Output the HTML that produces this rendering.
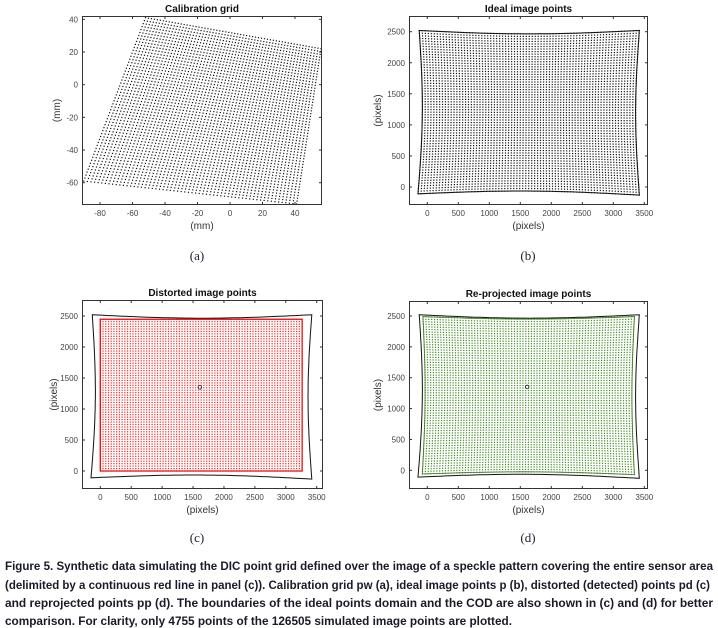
<!DOCTYPE html>
<html><head><meta charset="utf-8">
<style>
html,body{margin:0;padding:0;background:#fff;}
svg{display:block;}
text{font-family:"Liberation Sans",sans-serif;}
.cap{font-family:"Liberation Sans Narrow","Liberation Sans",sans-serif;font-weight:bold;font-size:11.5px;fill:#1a1a2a;}
.lab{font-family:"Liberation Serif",serif;font-size:13px;fill:#223;}
</style></head>
<body>
<svg id="fig" width="718" height="628" viewBox="0 0 718 628" xmlns="http://www.w3.org/2000/svg">
<text class="lab" x="197" y="260" text-anchor="middle">(a)</text>
<text class="lab" x="528" y="260" text-anchor="middle">(b)</text>
<text class="lab" x="197" y="542" text-anchor="middle">(c)</text>
<text class="lab" x="528" y="542" text-anchor="middle">(d)</text>
<g>
<text class="cap" x="5" y="570" textLength="708" lengthAdjust="spacingAndGlyphs">Figure 5. Synthetic data simulating the DIC point grid defined over the image of a speckle pattern covering the entire sensor area</text>
<text class="cap" x="5" y="589" textLength="705" lengthAdjust="spacingAndGlyphs">(delimited by a continuous red line in panel (c)). Calibration grid pw (a), ideal image points p (b), distorted (detected) points pd (c)</text>
<text class="cap" x="5" y="607" textLength="708" lengthAdjust="spacingAndGlyphs">and reprojected points pp (d). The boundaries of the ideal points domain and the COD are also shown in (c) and (d) for better</text>
<text class="cap" x="5" y="625" textLength="507" lengthAdjust="spacingAndGlyphs">comparison. For clarity, only 4755 points of the 126505 simulated image points are plotted.</text>
</g>
</svg>
<script>
// Panel A: calibration grid corners (mm) [TL, TR, BR, BL]
const calibCornersX = [-52, 56, 41, -90];
const calibCornersY = [41, 22, -73, -59];
const calibCols = 60, calibRows = 56;
const calibXTicks = [-80, -60, -40, -20, 0, 20, 40];
const calibYTicks = [-60, -40, -20, 0, 20, 40];
// Ideal image boundary (pixels) [TL, TR, BR, BL] and inward bow
const idealCornersX = [-130, 3420, 3420, -150];
const idealCornersY = [2520, 2520, -130, -110];
const idealBow = [60, 55];
const gridCols = 75, gridRows = 63;
// Sensor (red) rectangle
const sensorX = [0, 3264];
const sensorY = [0, 2448];
const centerPt = [1610, 1350];
// Re-projected (green) region corners
const reprojCornersX = [-70, 3340, 3340, -80];
const reprojCornersY = [2490, 2490, -70, -60];
const reprojBow = [40, 40];
const pixXTicks = [0, 500, 1000, 1500, 2000, 2500, 3000, 3500];
const pixYTicks = [0, 500, 1000, 1500, 2000, 2500];

const NS = "http://www.w3.org/2000/svg";
const svg = document.getElementById('fig');
function mk(tag, attrs, parent) {
  const e = document.createElementNS(NS, tag);
  for (const k in attrs) e.setAttribute(k, attrs[k]);
  (parent || svg).appendChild(e);
  return e;
}
function panel(p) {
  const g = mk('g', {});
  
  
  const sx = v => p.px0 + (v - p.x0) * (p.px1 - p.px0) / (p.x1 - p.x0);
  const sy = v => p.py0 + (v - p.y0) * (p.py1 - p.py0) / (p.y1 - p.y0);
  mk('rect', {x: p.bx0, y: p.by0, width: p.bx1 - p.bx0, height: p.by1 - p.by0, fill: '#fff'}, g);
  return {g, sx, sy};
}
function axes(P, p, xt, yt, ylabX, xlabY, title, xlab) {
  const {g, sx, sy} = P;
  const ax = mk('g', {}, g);
  
  
  mk('rect', {x: p.bx0 + .5, y: p.by0 + .5, width: p.bx1 - p.bx0 - 1, height: p.by1 - p.by0 - 1, fill: 'none', stroke: '#333', 'stroke-width': 1}, ax);
  xt.forEach(v => {
    const x = sx(v);
    mk('line', {x1: x, x2: x, y1: p.by1, y2: p.by1 - 3, stroke: '#333'}, ax);
    mk('line', {x1: x, x2: x, y1: p.by0, y2: p.by0 + 3, stroke: '#333'}, ax);
    const t = mk('text', {x: x, y: p.by1 + 11, 'font-size': 8, fill: '#444', 'text-anchor': 'middle'}, ax);
    t.textContent = v;
    
    
  });
  yt.forEach(v => {
    const y = sy(v);
    mk('line', {x1: p.bx0, x2: p.bx0 + 3, y1: y, y2: y, stroke: '#333'}, ax);
    mk('line', {x1: p.bx1, x2: p.bx1 - 3, y1: y, y2: y, stroke: '#333'}, ax);
    const t = mk('text', {x: p.bx0 - 4, y: y + 3, 'font-size': 8, fill: '#444', 'text-anchor': 'end'}, ax);
    t.textContent = v;
    
    
  });
  const tt = mk('text', {x: (p.bx0 + p.bx1) / 2, y: p.by0 - 4, 'font-size': 10, 'font-weight': 'bold', fill: '#111', 'text-anchor': 'middle'}, g);
  tt.textContent = title;
  
  
  const xl = mk('text', {x: (p.bx0 + p.bx1) / 2, y: xlabY, 'font-size': 10, fill: '#333', 'text-anchor': 'middle'}, g);
  xl.textContent = xlab;
  
  
  const cy = (p.by0 + p.by1) / 2;
  const yl = mk('text', {x: ylabX, y: cy, 'font-size': 10, fill: '#333', 'text-anchor': 'middle', transform: 'rotate(-90 ' + ylabX + ' ' + cy + ')'}, g);
  yl.textContent = xlab;
  
  
}
function warp(cx, cy, bow, u, v) {
  const x = (1 - u) * v * cx[0] + u * v * cx[1] + u * (1 - v) * cx[2] + (1 - u) * (1 - v) * cx[3];
  const y = (1 - u) * v * cy[0] + u * v * cy[1] + u * (1 - v) * cy[2] + (1 - u) * (1 - v) * cy[3];
  const b0 = bow ? bow[0] : 0, b1 = bow ? bow[1] : 0;
  return [x + b0 * Math.sin(Math.PI * v) * (1 - 2 * u), y - b1 * Math.sin(Math.PI * u) * (2 * v - 1)];
}
function dots(P, name, cx, cy, bow, cols, rows, color, sz) {
  const g = mk('g', {fill: color}, P.g);
  
  
  for (let i = 0; i < cols; i++) for (let j = 0; j < rows; j++) {
    const q = warp(cx, cy, bow, i / (cols - 1), j / (rows - 1));
    mk('rect', {x: P.sx(q[0]) - sz / 2, y: P.sy(q[1]) - sz / 2, width: sz, height: sz}, g);
  }
}
function outline(P, name, cx, cy, bow, color, w) {
  let d = '';
  const N = 40, pts = [];
  for (let k = 0; k <= N; k++) pts.push([k / N, 1]);
  for (let k = 0; k <= N; k++) pts.push([1, 1 - k / N]);
  for (let k = 0; k <= N; k++) pts.push([1 - k / N, 0]);
  for (let k = 0; k <= N; k++) pts.push([0, k / N]);
  pts.forEach((uv, i) => {
    const q = warp(cx, cy, bow, uv[0], uv[1]);
    d += (i ? 'L' : 'M') + P.sx(q[0]).toFixed(1) + ' ' + P.sy(q[1]).toFixed(1);
  });
  const e = mk('path', {d: d + 'Z', fill: 'none', stroke: color, 'stroke-width': w}, P.g);
  
  
}

// Panel A
const pa = {name: 'panel-a-calibration-grid', bx0: 82, bx1: 322, by0: 16, by1: 205,
  x0: -80, x1: 40, px0: 100, px1: 295, y0: 40, y1: -60, py0: 19.3, py1: 182.7};
const A = panel(pa);
dots(A, 'calibration-points', calibCornersX, calibCornersY, null, calibCols, calibRows, '#111', 1.2);
axes(A, pa, calibXTicks, calibYTicks, 60, 229, 'Calibration grid', '(mm)');

// Panel B
const pb = {name: 'panel-b-ideal-points', bx0: 409, bx1: 648, by0: 16, by1: 205,
  x0: 0, x1: 3500, px0: 427.3, px1: 644.3, y0: 2500, y1: 0, py0: 31.7, py1: 187};
const B = panel(pb);
dots(B, 'ideal-points', idealCornersX, idealCornersY, idealBow, gridCols, gridRows, '#111', 1.2);
outline(B, 'ideal-boundary', idealCornersX, idealCornersY, idealBow, '#111', 1);
axes(B, pb, pixXTicks, pixYTicks, 381, 229, 'Ideal image points', '(pixels)');

// Panel C
const pc = {name: 'panel-c-distorted-points', bx0: 82, bx1: 323, by0: 300, by1: 489,
  x0: 0, x1: 3500, px0: 100.3, px1: 316.7, y0: 2500, y1: 0, py0: 316, py1: 471};
const C = panel(pc);
outline(C, 'ideal-boundary', idealCornersX, idealCornersY, idealBow, '#111', 1);
dots(C, 'distorted-points', [sensorX[0], sensorX[1], sensorX[1], sensorX[0]], [sensorY[1], sensorY[1], sensorY[0], sensorY[0]], null, gridCols, gridRows, '#f22', 1.2);
const sr = mk('rect', {x: C.sx(sensorX[0]), y: C.sy(sensorY[1]), width: C.sx(sensorX[1]) - C.sx(sensorX[0]), height: C.sy(sensorY[0]) - C.sy(sensorY[1]), fill: 'none', stroke: '#e00', 'stroke-width': 1.2}, C.g);


const cc = mk('circle', {cx: C.sx(centerPt[0]), cy: C.sy(centerPt[1]), r: 1.8, fill: 'none', stroke: '#222', 'stroke-width': .8}, C.g);


axes(C, pc, pixXTicks, pixYTicks, 57, 513, 'Distorted image points', '(pixels)');

// Panel D
const pd = {name: 'panel-d-reprojected-points', bx0: 409, bx1: 648, by0: 301, by1: 489,
  x0: 0, x1: 3500, px0: 427.3, px1: 644.3, y0: 2500, y1: 0, py0: 316, py1: 470.3};
const D = panel(pd);
outline(D, 'ideal-boundary', idealCornersX, idealCornersY, idealBow, '#111', 1);
dots(D, 'reprojected-points', reprojCornersX, reprojCornersY, reprojBow, gridCols, gridRows, '#3f8a20', 1.2);
outline(D, 'reprojected-boundary', reprojCornersX, reprojCornersY, reprojBow, '#3a7a1a', .8);
const dc = mk('circle', {cx: D.sx(centerPt[0]), cy: D.sy(centerPt[1]), r: 1.8, fill: 'none', stroke: '#222', 'stroke-width': .8}, D.g);


axes(D, pd, pixXTicks, pixYTicks, 381, 513, 'Re-projected image points', '(pixels)');
</script>
</body></html>
